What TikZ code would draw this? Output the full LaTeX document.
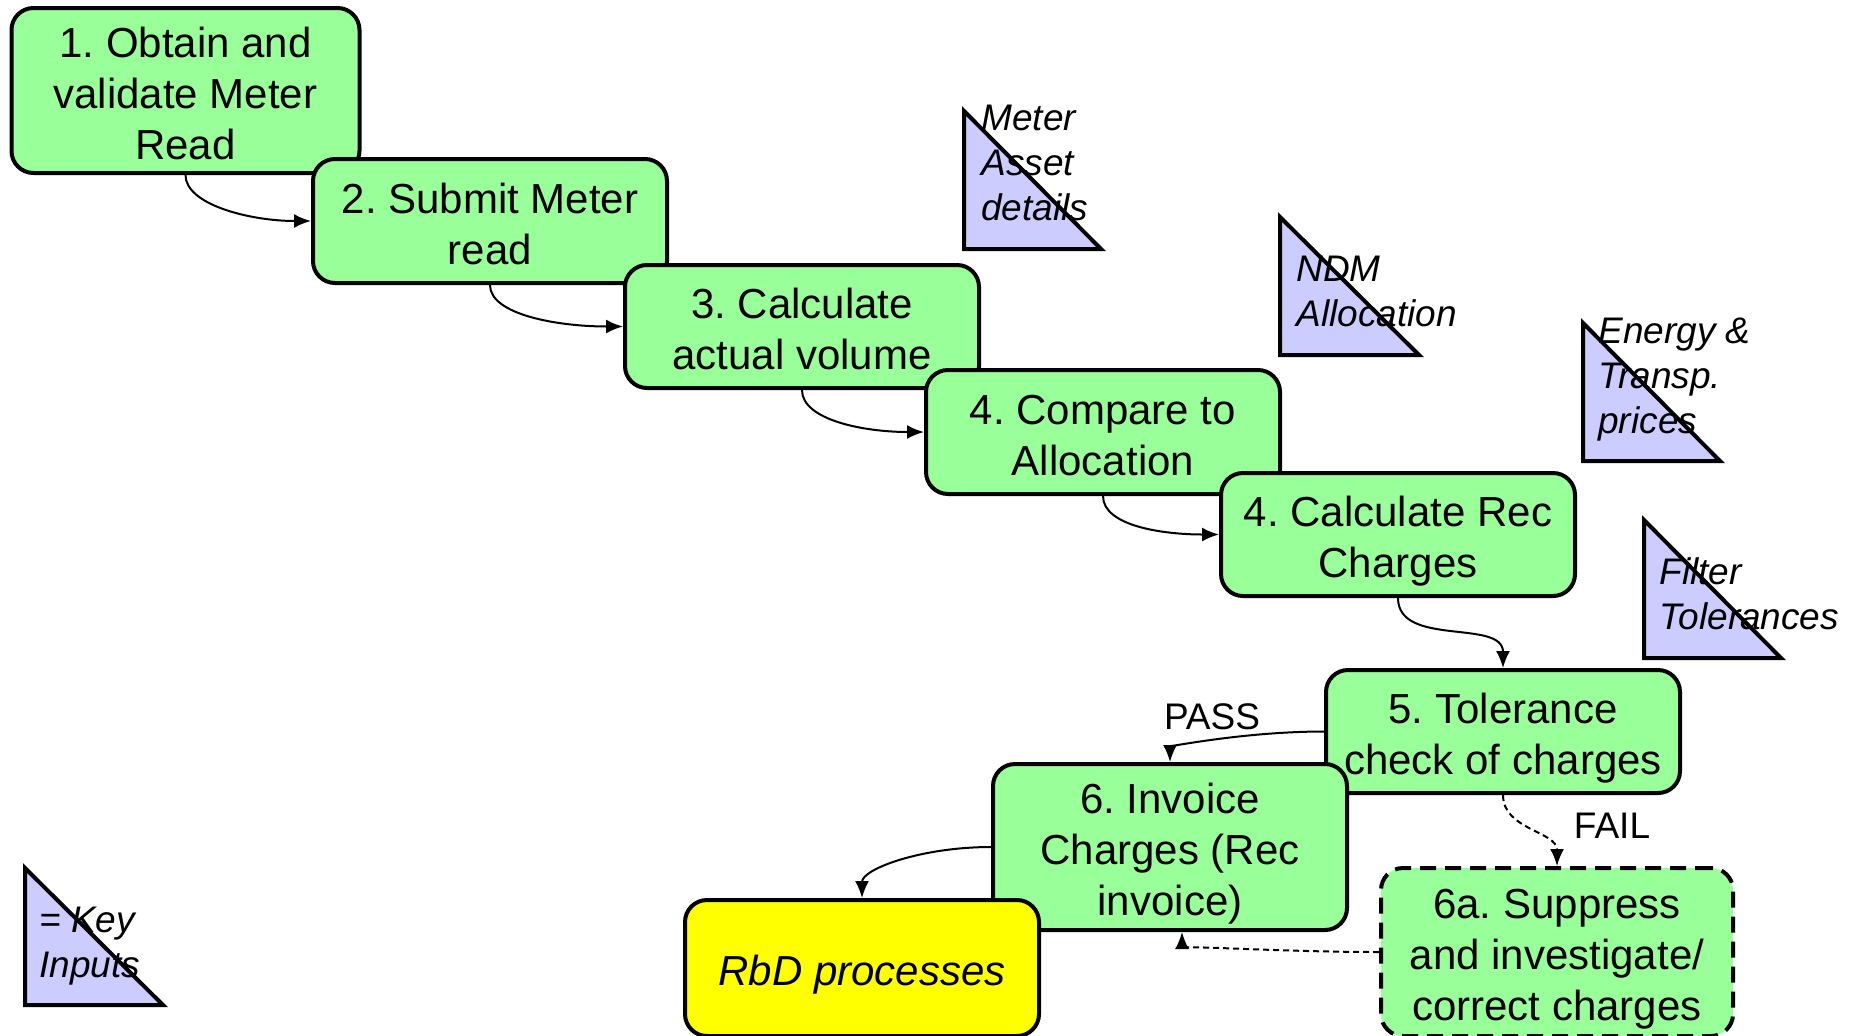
\documentclass[tikz,border=0pt]{standalone}
\usepackage{fontspec}
\setmainfont{Liberation Sans}
\frenchspacing
\usetikzlibrary{arrows.meta}
\definecolor{boxgreen}{HTML}{99FF99}
\definecolor{keyblue}{HTML}{CCCCFF}
\definecolor{rbdyellow}{HTML}{FFFF00}
\newcommand{\tstrut}{\rule{0pt}{22pt}}
\tikzset{
  stepbox/.style={draw, line width=2pt, fill=boxgreen, rounded corners=11pt, align=center,
    inner sep=0pt, font=\fontsize{21}{25.5}\selectfont, minimum width=177pt,
    execute at end node={\rule[-4.5pt]{0pt}{0pt}}},
  keytri/.style={draw, line width=2pt, fill=keyblue},
  keytxt/.style={align=left, inner sep=0pt, anchor=west, font=\fontsize{18.5}{22.5}\selectfont\itshape},
  flow/.style={line width=1pt, -{Latex[length=8.5pt,width=7pt]}},
  failflow/.style={flow, dash pattern=on 3pt off 2pt},
  lbl/.style={inner sep=0pt, font=\fontsize{18.5}{22}\selectfont}
}
\begin{document}
\begin{tikzpicture}[x=0.5pt,y=-0.5pt]
\useasboundingbox (0,0) rectangle (1862,1035);
\fill[white] (0,0) rectangle (1862,1035);

% key-input triangles
\draw[keytri] (964,111) -- (964,249) -- (1101,249) -- cycle;
\draw[keytri] (1280,217) -- (1280,355) -- (1419,355) -- cycle;
\draw[keytri] (1583,323) -- (1583,461) -- (1720,461) -- cycle;
\draw[keytri] (1644,520) -- (1644,658) -- (1781,658) -- cycle;
\draw[keytri] (25,868) -- (25,1005) -- (163,1005) -- cycle;
\node[keytxt] (tmeter) at (981,163) {Meter\\Asset\\details};
\node[keytxt] (tndm) at (1296,291) {NDM\\Allocation};
\node[keytxt] (tenergy) at (1598,380) {Energy \&\\Transp.\\prices};
\node[keytxt] (tfilter) at (1659,594) {Filter\\Tolerances};
\node[keytxt] (tkey) at (39,946) {= Key\\Inputs};

% process boxes
\node[stepbox, minimum width=174pt, minimum height=82.5pt] (b1) at (185.5,90.5) {\tstrut 1. Obtain and\\validate Meter\\Read};
\node[stepbox, minimum height=62pt] (b2) at (490,221) {\tstrut 2. Submit Meter\\read};
\node[stepbox, minimum height=61.5pt] (b3) at (802,326.5) {\tstrut 3. Calculate\\actual volume};
\node[stepbox, minimum height=62pt] (b4) at (1103,432) {\tstrut 4. Compare to\\Allocation};
\node[stepbox, minimum height=61.5pt] (b4b) at (1398,534.5) {\tstrut 4. Calculate Rec\\Charges};
\node[stepbox, minimum height=61.5pt] (b5) at (1503,731.5) {\tstrut 5. Tolerance\\check of charges};
\node[stepbox, minimum height=83pt] (b6) at (1170,847) {\tstrut 6. Invoice\\Charges (Rec\\invoice)};
\node[stepbox, fill=rbdyellow, minimum height=68pt, font=\fontsize{21}{25.5}\selectfont\itshape] (rbd) at (862,968) {\tstrut RbD processes};
\node[stepbox, dash pattern=on 8pt off 4.5pt, minimum width=176pt, minimum height=84pt] (b6a) at (1557,952) {\tstrut 6a. Suppress\\and investigate/\\correct charges};

% connectors
\draw[flow] (b1.south) .. controls +(0,30) and +(-60,0) .. (b2.west);
\draw[flow] (b2.south) .. controls +(0,30) and +(-64,0) .. (b3.west);
\draw[flow] (b3.south) .. controls +(0,30) and +(-60,0) .. (b4.west);
\draw[flow] (b4.south) .. controls +(0,30) and +(-56,0) .. (b4b.west);
\draw[flow] (b4b.south) to[out=-90,in=90] (b5.north);
\draw[flow] (b5.west) .. controls +(-80,0) and +(0,-15) .. (b6.north);
\draw[failflow] (b5.south) to[out=-90,in=90] (b6a.north);
\draw[failflow] (b6a.west) .. controls +(-100,0) and +(0,13) .. ([xshift=6pt]b6.south);
\draw[flow] (b6.west) .. controls +(-70,0) and +(0,-29) .. (rbd.north);

\node[lbl] (pass) at (1212,717) {PASS};
\node[lbl] (fail) at (1612,826) {FAIL};
\end{tikzpicture}
\end{document}
